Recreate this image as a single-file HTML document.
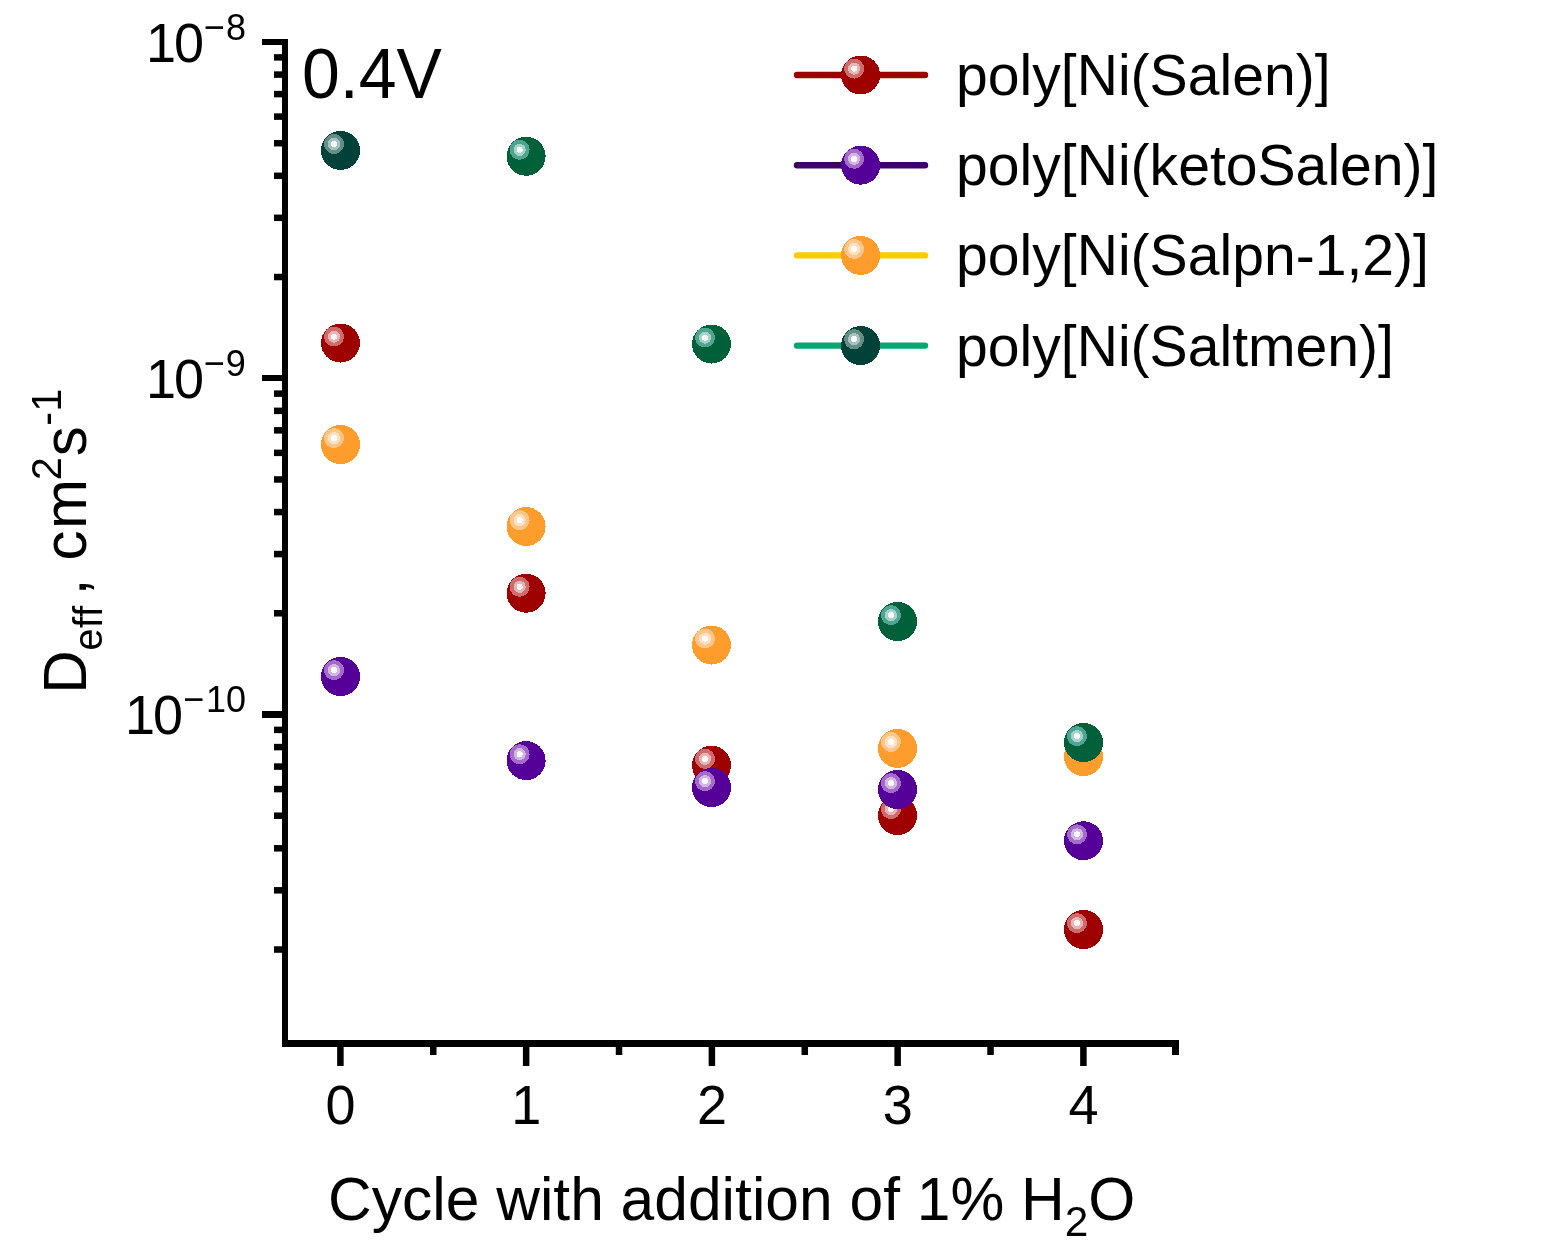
<!DOCTYPE html>
<html lang="en"><head><meta charset="utf-8"><title>Deff vs cycle</title>
<style>html,body{margin:0;padding:0;background:#fff}body{width:1546px;height:1244px;overflow:hidden}svg{display:block}</style>
</head><body>
<svg width="1546" height="1244" viewBox="0 0 1546 1244" font-family='"Liberation Sans", Arial, Helvetica, sans-serif' fill="#000">
<rect width="1546" height="1244" fill="#fff"/>
<g id="axes" shape-rendering="crispEdges">
<rect x="282.00" y="39.00" width="6.00" height="1008.00"/>
<rect x="282.00" y="1040.00" width="897.00" height="7.00"/>
<rect x="262.00" y="39.00" width="21.00" height="6.00"/>
<rect x="262.00" y="375.00" width="21.00" height="6.00"/>
<rect x="262.00" y="711.00" width="21.00" height="7.00"/>
<rect x="1172.00" y="1046.00" width="7.00" height="9.00"/>
</g>
<g id="ticks">
<rect x="274.00" y="273.78" width="9.00" height="6.50"/>
<rect x="274.00" y="214.57" width="9.00" height="6.50"/>
<rect x="274.00" y="172.56" width="9.00" height="6.50"/>
<rect x="274.00" y="139.97" width="9.00" height="6.50"/>
<rect x="274.00" y="113.35" width="9.00" height="6.50"/>
<rect x="274.00" y="90.84" width="9.00" height="6.50"/>
<rect x="274.00" y="71.34" width="9.00" height="6.50"/>
<rect x="274.00" y="54.14" width="9.00" height="6.50"/>
<rect x="274.00" y="610.03" width="9.00" height="6.50"/>
<rect x="274.00" y="550.82" width="9.00" height="6.50"/>
<rect x="274.00" y="508.81" width="9.00" height="6.50"/>
<rect x="274.00" y="476.22" width="9.00" height="6.50"/>
<rect x="274.00" y="449.60" width="9.00" height="6.50"/>
<rect x="274.00" y="427.09" width="9.00" height="6.50"/>
<rect x="274.00" y="407.59" width="9.00" height="6.50"/>
<rect x="274.00" y="390.39" width="9.00" height="6.50"/>
<rect x="274.00" y="946.28" width="9.00" height="6.50"/>
<rect x="274.00" y="887.07" width="9.00" height="6.50"/>
<rect x="274.00" y="845.06" width="9.00" height="6.50"/>
<rect x="274.00" y="812.47" width="9.00" height="6.50"/>
<rect x="274.00" y="785.85" width="9.00" height="6.50"/>
<rect x="274.00" y="763.34" width="9.00" height="6.50"/>
<rect x="274.00" y="743.84" width="9.00" height="6.50"/>
<rect x="274.00" y="726.64" width="9.00" height="6.50"/>
<rect x="337.15" y="1046.00" width="6.50" height="20.00"/>
<rect x="522.90" y="1046.00" width="6.50" height="20.00"/>
<rect x="708.65" y="1046.00" width="6.50" height="20.00"/>
<rect x="894.40" y="1046.00" width="6.50" height="20.00"/>
<rect x="1080.15" y="1046.00" width="6.50" height="20.00"/>
<rect x="430.02" y="1046.00" width="6.50" height="9.00"/>
<rect x="615.77" y="1046.00" width="6.50" height="9.00"/>
<rect x="801.52" y="1046.00" width="6.50" height="9.00"/>
<rect x="987.27" y="1046.00" width="6.50" height="9.00"/>
</g>
<text transform="translate(340.5,1124) scale(1,1.03)" font-size="54" text-anchor="middle">0</text>
<text transform="translate(526.25,1124) scale(1,1.03)" font-size="54" text-anchor="middle">1</text>
<text transform="translate(712,1124) scale(1,1.03)" font-size="54" text-anchor="middle">2</text>
<text transform="translate(897.75,1124) scale(1,1.03)" font-size="54" text-anchor="middle">3</text>
<text transform="translate(1083.5,1124) scale(1,1.03)" font-size="54" text-anchor="middle">4</text>
<text transform="translate(0,62) scale(1,1.04)" font-size="54"><tspan x="145.89">1</tspan><tspan x="173.89">0</tspan><tspan font-size="36" x="203.72" dy="-21.15">−</tspan><tspan font-size="36" x="225.94">8</tspan></text>
<text transform="translate(0,398) scale(1,1.04)" font-size="54"><tspan x="145.89">1</tspan><tspan x="173.89">0</tspan><tspan font-size="36" x="203.72" dy="-21.15">−</tspan><tspan font-size="36" x="225.81">9</tspan></text>
<text transform="translate(0,734) scale(1,1.04)" font-size="54"><tspan x="124.89">1</tspan><tspan x="152.89">0</tspan><tspan font-size="36" x="183.22" dy="-21.15">−</tspan><tspan font-size="36" x="206.06">1</tspan><tspan font-size="36" x="226.09">0</tspan></text>
<text transform="translate(328,1220) scale(1.009,1.02)" font-size="60">Cycle with addition of 1% H<tspan font-size="42" dy="15.7">2</tspan><tspan dy="-15.7">O</tspan></text>
<text transform="translate(86,0) rotate(-90) scale(1,1.02)" font-size="60"><tspan x="-693.72">D</tspan><tspan font-size="40" letter-spacing="0.5" x="-650.70" dy="15.69">eff </tspan><tspan x="-595.19" dy="-15.69">, </tspan><tspan x="-560.55" letter-spacing="1.6">cm</tspan><tspan font-size="41.5" x="-480.29" dy="-24.51">2</tspan><tspan x="-456.37" dy="24.51">s</tspan><tspan font-size="41.5" x="-425.84" dy="-24.51">-</tspan><tspan font-size="41.5" x="-411.66">1</tspan></text>
<text transform="translate(302,98) scale(1.015,1.05)" font-size="67">0.4V</text>
<g id="points" shape-rendering="crispEdges">
<g><circle cx="340.5" cy="343" r="19.5" fill="#9e0000"/><circle cx="334" cy="336.6" r="10" fill="#cf6b6b"/><circle cx="334" cy="336.6" r="6.1" fill="#e8b4b4"/><circle cx="334" cy="336.6" r="3.1" fill="#fdf8f8"/></g>
<g><circle cx="526.1" cy="593.2" r="19.5" fill="#9e0000"/><circle cx="519.6" cy="586.8" r="10" fill="#cf6b6b"/><circle cx="519.6" cy="586.8" r="6.1" fill="#e8b4b4"/><circle cx="519.6" cy="586.8" r="3.1" fill="#fdf8f8"/></g>
<g><circle cx="711.5" cy="765.2" r="19.5" fill="#9e0000"/><circle cx="705" cy="758.8" r="10" fill="#cf6b6b"/><circle cx="705" cy="758.8" r="6.1" fill="#e8b4b4"/><circle cx="705" cy="758.8" r="3.1" fill="#fdf8f8"/></g>
<g><circle cx="897.5" cy="815.5" r="19.5" fill="#9e0000"/><circle cx="891" cy="809.1" r="10" fill="#cf6b6b"/><circle cx="891" cy="809.1" r="6.1" fill="#e8b4b4"/><circle cx="891" cy="809.1" r="3.1" fill="#fdf8f8"/></g>
<g><circle cx="1083.5" cy="929.5" r="19.5" fill="#9e0000"/><circle cx="1077" cy="923.1" r="10" fill="#cf6b6b"/><circle cx="1077" cy="923.1" r="6.1" fill="#e8b4b4"/><circle cx="1077" cy="923.1" r="3.1" fill="#fdf8f8"/></g>
<g><circle cx="340.5" cy="676.5" r="19.5" fill="#540099"/><circle cx="334" cy="670.1" r="10" fill="#a46cc8"/><circle cx="334" cy="670.1" r="6.1" fill="#d2b5e4"/><circle cx="334" cy="670.1" r="3.1" fill="#fcfafd"/></g>
<g><circle cx="526.1" cy="760.6" r="19.5" fill="#540099"/><circle cx="519.6" cy="754.2" r="10" fill="#a46cc8"/><circle cx="519.6" cy="754.2" r="6.1" fill="#d2b5e4"/><circle cx="519.6" cy="754.2" r="3.1" fill="#fcfafd"/></g>
<g><circle cx="711.5" cy="787.5" r="19.5" fill="#540099"/><circle cx="705" cy="781.1" r="10" fill="#a46cc8"/><circle cx="705" cy="781.1" r="6.1" fill="#d2b5e4"/><circle cx="705" cy="781.1" r="3.1" fill="#fcfafd"/></g>
<g><circle cx="897.5" cy="789.5" r="19.5" fill="#540099"/><circle cx="891" cy="783.1" r="10" fill="#a46cc8"/><circle cx="891" cy="783.1" r="6.1" fill="#d2b5e4"/><circle cx="891" cy="783.1" r="3.1" fill="#fcfafd"/></g>
<g><circle cx="1083.5" cy="840.75" r="19.5" fill="#540099"/><circle cx="1077" cy="834.35" r="10" fill="#a46cc8"/><circle cx="1077" cy="834.35" r="6.1" fill="#d2b5e4"/><circle cx="1077" cy="834.35" r="3.1" fill="#fcfafd"/></g>
<g><circle cx="340.5" cy="444.5" r="19.5" fill="#ff9d2c"/><circle cx="334" cy="438.1" r="10" fill="#ffc68a"/><circle cx="334" cy="438.1" r="6.1" fill="#ffe2c4"/><circle cx="334" cy="438.1" r="3.1" fill="#fffdfb"/></g>
<g><circle cx="526.1" cy="526.5" r="19.5" fill="#ff9d2c"/><circle cx="519.6" cy="520.1" r="10" fill="#ffc68a"/><circle cx="519.6" cy="520.1" r="6.1" fill="#ffe2c4"/><circle cx="519.6" cy="520.1" r="3.1" fill="#fffdfb"/></g>
<g><circle cx="711.5" cy="645" r="19.5" fill="#ff9d2c"/><circle cx="705" cy="638.6" r="10" fill="#ffc68a"/><circle cx="705" cy="638.6" r="6.1" fill="#ffe2c4"/><circle cx="705" cy="638.6" r="3.1" fill="#fffdfb"/></g>
<g><circle cx="897.5" cy="748.4" r="19.5" fill="#ff9d2c"/><circle cx="891" cy="742" r="10" fill="#ffc68a"/><circle cx="891" cy="742" r="6.1" fill="#ffe2c4"/><circle cx="891" cy="742" r="3.1" fill="#fffdfb"/></g>
<g><circle cx="1083.5" cy="756.5" r="19.5" fill="#ff9d2c"/><circle cx="1077" cy="750.1" r="10" fill="#ffc68a"/><circle cx="1077" cy="750.1" r="6.1" fill="#ffe2c4"/><circle cx="1077" cy="750.1" r="3.1" fill="#fffdfb"/></g>
<g><circle cx="340.5" cy="150.4" r="19.5" fill="#00423a"/><circle cx="334" cy="144" r="10" fill="#668e89"/><circle cx="334" cy="144" r="6.1" fill="#a6c4bf"/><circle cx="334" cy="144" r="3.1" fill="#fafdfc"/></g>
<g><circle cx="526.1" cy="156.25" r="19.5" fill="#00603a"/><circle cx="519.6" cy="149.85" r="10" fill="#4da592"/><circle cx="519.6" cy="149.85" r="6.1" fill="#a6d2c8"/><circle cx="519.6" cy="149.85" r="3.1" fill="#f7fcfb"/></g>
<g><circle cx="711.5" cy="344" r="19.5" fill="#00603a"/><circle cx="705" cy="337.6" r="10" fill="#4da592"/><circle cx="705" cy="337.6" r="6.1" fill="#a6d2c8"/><circle cx="705" cy="337.6" r="3.1" fill="#f7fcfb"/></g>
<g><circle cx="897.5" cy="621.5" r="19.5" fill="#00603a"/><circle cx="891" cy="615.1" r="10" fill="#4da592"/><circle cx="891" cy="615.1" r="6.1" fill="#a6d2c8"/><circle cx="891" cy="615.1" r="3.1" fill="#f7fcfb"/></g>
<g><circle cx="1083.5" cy="742.5" r="19.5" fill="#00603a"/><circle cx="1077" cy="736.1" r="10" fill="#4da592"/><circle cx="1077" cy="736.1" r="6.1" fill="#a6d2c8"/><circle cx="1077" cy="736.1" r="3.1" fill="#f7fcfb"/></g>
</g>
<g id="legend">
<line x1="797" x2="925" y1="75" y2="75" stroke="#9e0000" stroke-width="6.4" stroke-linecap="round"/>
<g shape-rendering="crispEdges"><g><circle cx="860.6" cy="75" r="19.5" fill="#9e0000"/><circle cx="854.1" cy="68.6" r="10" fill="#cf6b6b"/><circle cx="854.1" cy="68.6" r="6.1" fill="#e8b4b4"/><circle cx="854.1" cy="68.6" r="3.1" fill="#fdf8f8"/></g></g>
<text transform="translate(956,94.7) scale(0.985,1)" font-size="58">poly[Ni(Salen)]</text>
<line x1="797" x2="925" y1="165.2" y2="165.2" stroke="#3f0066" stroke-width="6.4" stroke-linecap="round"/>
<g shape-rendering="crispEdges"><g><circle cx="860.6" cy="165.2" r="19.5" fill="#540099"/><circle cx="854.1" cy="158.8" r="10" fill="#a46cc8"/><circle cx="854.1" cy="158.8" r="6.1" fill="#d2b5e4"/><circle cx="854.1" cy="158.8" r="3.1" fill="#fcfafd"/></g></g>
<text transform="translate(956,185) scale(0.985,1)" font-size="58">poly[Ni(ketoSalen)]</text>
<line x1="797" x2="925" y1="255.4" y2="255.4" stroke="#ffcc00" stroke-width="6.4" stroke-linecap="round"/>
<g shape-rendering="crispEdges"><g><circle cx="860.6" cy="255.4" r="19.5" fill="#ff9d2c"/><circle cx="854.1" cy="249" r="10" fill="#ffc68a"/><circle cx="854.1" cy="249" r="6.1" fill="#ffe2c4"/><circle cx="854.1" cy="249" r="3.1" fill="#fffdfb"/></g></g>
<text transform="translate(956,275.3) scale(0.985,1)" font-size="58">poly[Ni(Salpn-1,2)]</text>
<line x1="797" x2="925" y1="345.6" y2="345.6" stroke="#0aa672" stroke-width="6.4" stroke-linecap="round"/>
<g shape-rendering="crispEdges"><g><circle cx="860.6" cy="345.6" r="19.5" fill="#00423a"/><circle cx="854.1" cy="339.2" r="10" fill="#668e89"/><circle cx="854.1" cy="339.2" r="6.1" fill="#a6c4bf"/><circle cx="854.1" cy="339.2" r="3.1" fill="#fafdfc"/></g></g>
<text transform="translate(956,365.6) scale(0.985,1)" font-size="58">poly[Ni(Saltmen)]</text>
</g>
</svg>
</body></html>
